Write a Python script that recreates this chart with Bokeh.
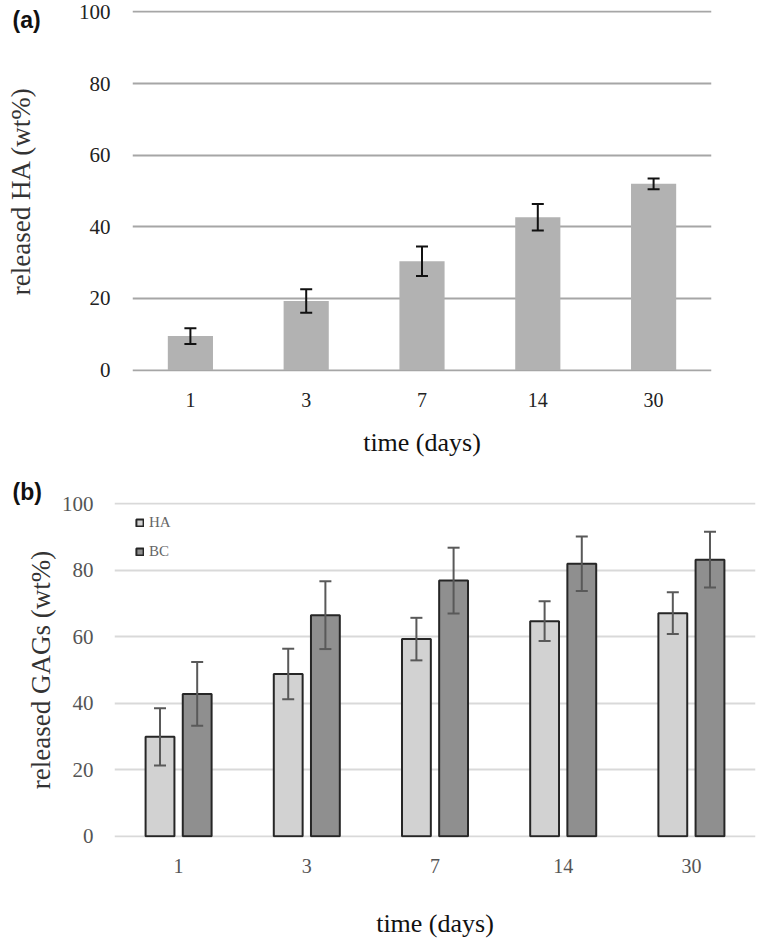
from bokeh.plotting import figure
from bokeh.layouts import column
from bokeh.models import (ColumnDataSource, FactorRange, Range1d, Whisker, TeeHead,
                          Legend, LegendItem, FixedTicker)
from bokeh.transform import dodge
from bokeh.core.properties import value
from bokeh.embed import file_html
from bokeh.resources import INLINE

# ---------------- data ----------------
days = ["1", "3", "7", "14", "30"]
ha_released = [9.5, 19.3, 30.4, 42.7, 52.0]
ha_released_err = [2.2, 3.3, 4.1, 3.7, 1.5]

gag_ha = [29.9, 48.8, 59.3, 64.7, 67.1]
gag_ha_err = [8.6, 7.6, 6.4, 6.0, 6.3]
gag_bc = [42.8, 66.5, 76.9, 82.0, 83.2]
gag_bc_err = [9.6, 10.2, 9.9, 8.2, 8.4]

y_ticks = [0, 20, 40, 60, 80, 100]
panel_tags = ["(a)", "(b)"]

SERIF = "Liberation Serif"
SANS = "Liberation Sans"

HA_H = 462
HB_H = 478
TAG_W, TAG_H = 60, 45


def style_axes(p, tick_color):
    for ax in (p.xaxis[0], p.yaxis[0]):
        ax.axis_line_color = None
        ax.major_tick_line_color = None
        ax.minor_tick_line_color = None
        ax.major_tick_out = 0
        ax.major_tick_in = 0
        ax.major_label_text_font = SERIF
        ax.major_label_text_color = tick_color
        ax.axis_label_text_font = SERIF
        ax.axis_label_text_font_style = "normal"


def tag_box(text, ty, panel_h):
    t = figure(width=TAG_W, height=TAG_H, x_range=Range1d(0, TAG_W), y_range=Range1d(0, TAG_H),
               x_axis_type=None, y_axis_type=None, output_backend="svg",
               toolbar_location=None, min_border_left=0, min_border_right=0,
               min_border_top=0, min_border_bottom=0)
    t.grid.visible = False
    t.outline_line_color = None
    t.background_fill_alpha = 0
    t.border_fill_alpha = 0
    t.text(x=[12], y=[ty], text=[text], text_font=value(SANS), text_font_style="bold",
           text_font_size="23px", text_baseline="middle", text_align="left",
           text_color="#111111")
    return column(t, margin=(-panel_h, 0, panel_h - TAG_H, 0))


# ---------------- panel (a) ----------------
src_a = ColumnDataSource(dict(
    t=days, v=ha_released,
    lo=[v - e for v, e in zip(ha_released, ha_released_err)],
    hi=[v + e for v, e in zip(ha_released, ha_released_err)],
))

pa = figure(x_range=FactorRange(*days, range_padding=0), y_range=Range1d(-0.4, 100.4),
            width=760, height=HA_H, output_backend="svg", toolbar_location=None,
            min_border_left=132, min_border_right=49, min_border_top=10, min_border_bottom=91)
pa.outline_line_color = None
pa.vbar(x="t", top="v", width=0.39, source=src_a, fill_color="#b2b2b2", line_color=None)
pa.add_layout(Whisker(source=src_a, base="t", lower="lo", upper="hi", level="annotation",
                      line_color="#111111", line_width=2,
                      upper_head=TeeHead(size=12, line_color="#111111", line_width=2),
                      lower_head=TeeHead(size=12, line_color="#111111", line_width=2)))

pa.yaxis.ticker = FixedTicker(ticks=y_ticks)
pa.ygrid.ticker = FixedTicker(ticks=y_ticks)
pa.ygrid.grid_line_color = "#a6a6a6"
pa.ygrid.grid_line_width = 2
pa.xgrid.grid_line_color = None
style_axes(pa, "#222222")

pa.yaxis.major_label_text_font_size = "21px"
pa.yaxis.major_label_standoff = 22
pa.yaxis.axis_label = "released HA (wt%)"
pa.yaxis.axis_label_text_font_size = "27px"
pa.yaxis.axis_label_text_color = "#333333"
pa.yaxis.axis_label_standoff = 40

pa.xaxis.major_label_text_font_size = "20px"
pa.xaxis.major_label_standoff = 21
pa.xaxis.axis_label = "time (days)"
pa.xaxis.axis_label_text_font_size = "26px"
pa.xaxis.axis_label_text_color = "#111111"
pa.xaxis.axis_label_standoff = 18

# ---------------- panel (b) ----------------
src_b = ColumnDataSource(dict(
    t=days, ha=gag_ha, bc=gag_bc,
    ha_lo=[v - e for v, e in zip(gag_ha, gag_ha_err)],
    ha_hi=[v + e for v, e in zip(gag_ha, gag_ha_err)],
    bc_lo=[v - e for v, e in zip(gag_bc, gag_bc_err)],
    bc_hi=[v + e for v, e in zip(gag_bc, gag_bc_err)],
))

pb = figure(x_range=FactorRange(*days, range_padding=0), y_range=Range1d(-0.4, 100.4),
            width=760, height=HB_H, output_backend="svg", toolbar_location=None,
            min_border_left=114, min_border_right=5, min_border_top=40, min_border_bottom=101)
pb.outline_line_color = None

off = 0.145
r_ha = pb.vbar(x=dodge("t", -off, range=pb.x_range), top="ha", width=0.225, source=src_b,
               fill_color="#d2d2d2", line_color="#262626", line_width=2)
r_bc = pb.vbar(x=dodge("t", off, range=pb.x_range), top="bc", width=0.225, source=src_b,
               fill_color="#8f8f8f", line_color="#262626", line_width=2)

for base, lo, hi in ((dodge("t", -off, range=pb.x_range), "ha_lo", "ha_hi"),
                     (dodge("t", off, range=pb.x_range), "bc_lo", "bc_hi")):
    pb.add_layout(Whisker(source=src_b, base=base, lower=lo, upper=hi, level="annotation",
                          line_color="#595959", line_width=2,
                          upper_head=TeeHead(size=12, line_color="#595959", line_width=2),
                          lower_head=TeeHead(size=12, line_color="#595959", line_width=2)))

pb.yaxis.ticker = FixedTicker(ticks=y_ticks)
pb.ygrid.ticker = FixedTicker(ticks=y_ticks)
pb.ygrid.grid_line_color = "#d9d9d9"
pb.ygrid.grid_line_width = 2
pb.xgrid.grid_line_color = None
style_axes(pb, "#555555")

pb.yaxis.major_label_text_font_size = "21px"
pb.yaxis.major_label_standoff = 21
pb.yaxis.axis_label = "released GAGs (wt%)"
pb.yaxis.axis_label_text_font_size = "27px"
pb.yaxis.axis_label_text_color = "#333333"
pb.yaxis.axis_label_standoff = 3

pb.xaxis.major_label_text_font_size = "20px"
pb.xaxis.major_label_standoff = 21
pb.xaxis.axis_label = "time (days)"
pb.xaxis.axis_label_text_font_size = "26px"
pb.xaxis.axis_label_text_color = "#111111"
pb.xaxis.axis_label_standoff = 33

legend = Legend(items=[LegendItem(label="HA", renderers=[r_ha]),
                       LegendItem(label="BC", renderers=[r_bc])],
                location=(21, 277), orientation="vertical",
                glyph_width=9, glyph_height=9, label_height=18, spacing=11,
                padding=0, margin=0,
                label_text_font=SERIF, label_text_font_size="15px",
                label_text_color="#666666", label_standoff=5,
                background_fill_alpha=0, border_line_color=None)
pb.add_layout(legend)

box_a = column(pa, tag_box(panel_tags[0], 26, HA_H))
box_b = column(pb, tag_box(panel_tags[1], 16, HB_H))
layout = column(box_a, box_b, spacing=0)
open("out.html", "w").write(file_html(layout, INLINE))
